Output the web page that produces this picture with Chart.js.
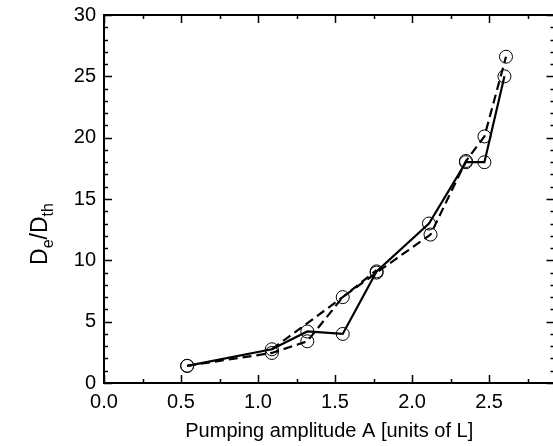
<!DOCTYPE html>
<html>
<head>
<meta charset="utf-8">
<script src="https://cdn.jsdelivr.net/npm/chart.js@4.4.1/dist/chart.umd.min.js"></script>
<style>
html,body{margin:0;padding:0;background:#fff;overflow:hidden;width:553px;height:446px;}
canvas{display:block;}
</style>
</head>
<body>
<canvas id="c" width="562" height="446"></canvas>
<script>
// Data
const solidX = [0.54, 1.09, 1.32, 1.55, 1.77, 2.11, 2.35, 2.47, 2.60];
const solidY = [1.4, 2.75, 4.2, 4.0, 9.1, 13.0, 18.0, 18.0, 25.0];
const dashedX = [0.54, 1.09, 1.32, 1.55, 1.77, 2.12, 2.35, 2.47, 2.61];
const dashedY = [1.4, 2.45, 3.4, 7.0, 9.0, 12.1, 18.1, 20.1, 26.6];
const dashed2X = [1.09, 1.55, 1.77];
const dashed2Y = [2.75, 7.0, 9.2];
const xTicks = [0.0, 0.5, 1.0, 1.5, 2.0, 2.5];
const yTicks = [0, 5, 10, 15, 20, 25, 30];
const xMin = 0, xMax = 2.925, yMin = 0, yMax = 30;

const pts = (xs, ys) => xs.map((x, i) => ({x: x, y: ys[i]}));
const FONT = "'Liberation Sans', Arial, sans-serif";

const framePlugin = {
  id: 'frame',
  afterDraw(chart) {
    const ctx = chart.ctx;
    const a = chart.chartArea;
    const xs = chart.scales.x, ys = chart.scales.y;
    ctx.save();
    ctx.strokeStyle = '#000';
    ctx.lineWidth = 2;
    ctx.strokeRect(a.left, a.top, a.right - a.left, a.bottom - a.top);
    ctx.lineWidth = 1.5;
    for (let v = xMin; v <= xMax + 1e-9; v += 0.25) {
      const major = Math.abs(v / 0.5 - Math.round(v / 0.5)) < 1e-6;
      const len = major ? 8 : 4;
      const px = Math.round(xs.getPixelForValue(v)) + 0.5;
      ctx.beginPath();
      ctx.moveTo(px, a.bottom); ctx.lineTo(px, a.bottom - len);
      ctx.moveTo(px, a.top); ctx.lineTo(px, a.top + len);
      ctx.stroke();
    }
    for (let v = yMin; v <= yMax + 1e-9; v += 1) {
      const major = v % 5 === 0;
      const len = major ? 8 : 4;
      const py = Math.round(ys.getPixelForValue(v)) + 0.5;
      ctx.beginPath();
      ctx.moveTo(a.left, py); ctx.lineTo(a.left + len, py);
      ctx.moveTo(a.right, py); ctx.lineTo(a.right - len, py);
      ctx.stroke();
    }
    // y axis title with subscripts
    ctx.translate(47, 234);
    ctx.rotate(-Math.PI / 2);
    ctx.fillStyle = '#000';
    ctx.textBaseline = 'alphabetic';
    const big = '23px ' + FONT, small = '16px ' + FONT;
    const parts = [['D', big, 0], ['e', small, 6], ['/D', big, 0], ['th', small, 6]];
    let total = 0;
    parts.forEach(p => { ctx.font = p[1]; total += ctx.measureText(p[0]).width; });
    let x = -total / 2;
    parts.forEach(p => {
      ctx.font = p[1];
      ctx.fillText(p[0], x, p[2]);
      x += ctx.measureText(p[0]).width;
    });
    ctx.restore();
  }
};

const marker = {pointStyle: 'circle', pointRadius: 6.5, pointBorderWidth: 1, pointBackgroundColor: 'rgba(0,0,0,0)', pointBorderColor: '#000'};

new Chart(document.getElementById('c'), {
  type: 'scatter',
  data: {
    datasets: [
      Object.assign({label: 'solid', data: pts(solidX, solidY), showLine: true, borderColor: '#000', borderWidth: 2.2}, marker),
      Object.assign({label: 'dashed', data: pts(dashedX, dashedY), showLine: true, borderColor: '#000', borderWidth: 2.2, borderDash: [9, 5]}, marker),
      {label: 'dashed2', data: pts(dashed2X, dashed2Y), showLine: true, borderColor: '#000', borderWidth: 2.2, borderDash: [9, 5], pointRadius: 0}
    ]
  },
  options: {
    responsive: false,
    animation: false,
    devicePixelRatio: 1,
    layout: {padding: {top: 15, right: 6, left: 0, bottom: 3}},
    plugins: {legend: {display: false}, tooltip: {enabled: false}},
    scales: {
      x: {
        type: 'linear', min: xMin, max: xMax,
        afterBuildTicks: s => { s.ticks = xTicks.map(v => ({value: v})); },
        afterFit: s => { s.height = 60; s.paddingLeft = 0; s.paddingRight = 0; },
        grid: {display: false, drawTicks: false},
        border: {display: false},
        ticks: {color: '#000', font: {family: FONT, size: 20}, padding: 7, callback: v => v.toFixed(1), maxRotation: 0},
        title: {display: true, text: 'Pumping amplitude A [units of L]', color: '#000', font: {family: FONT, size: 20}, padding: {top: 0, bottom: 0}}
      },
      y: {
        type: 'linear', min: yMin, max: yMax,
        afterBuildTicks: s => { s.ticks = yTicks.map(v => ({value: v})); },
        afterFit: s => { s.width = 104; s.paddingTop = 0; s.paddingBottom = 0; },
        grid: {display: false, drawTicks: false},
        border: {display: false},
        ticks: {color: '#000', font: {family: FONT, size: 20}, padding: 8}
      }
    }
  },
  plugins: [framePlugin]
});
</script>
</body>
</html>
